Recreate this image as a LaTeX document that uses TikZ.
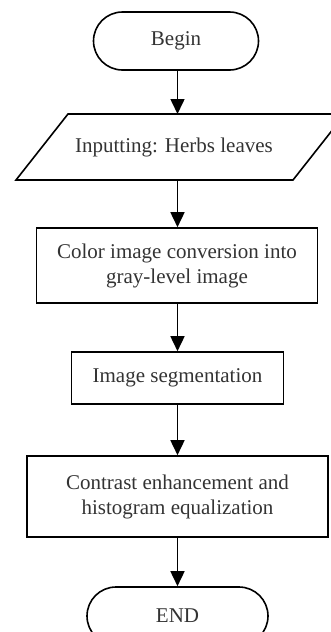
\documentclass[tikz,border=0pt]{standalone}
\usepackage{fontspec}
\setmainfont{Liberation Serif}
\usetikzlibrary{arrows.meta,shapes.misc}
\begin{document}
\begin{tikzpicture}[x=1pt,y=-1pt,
  lw/.style={line width=1.6pt},
  box/.style={draw, lw, inner sep=0pt, align=center, text=black!80,
    font=\fontsize{21}{25}\selectfont},
  term/.style={box, rounded rectangle},
  lbl/.style={inner sep=0pt, align=center, text=black!80, font=\fontsize{21}{25}\selectfont},
  arr/.style={lw, -{Triangle[width=14pt,length=15pt]}}]
\useasboundingbox (0,0) rectangle (331,632);
\clip (0,0) rectangle (331,632);
\node[term, minimum width=165pt, minimum height=58pt] (begin) at (176,41) {Begin};
\coordinate (pTL) at (68,114);
\coordinate (pTR) at (345,114);
\coordinate (pBR) at (293,180);
\coordinate (pBL) at (16,180);
\draw[lw, line join=miter] (pTL) -- (pTR) -- (pBR) -- (pBL) -- cycle;
\node[lbl] (input) at (174,147) {Inputting: Herbs leaves};
\coordinate (inTop) at (177.5,114);
\coordinate (inBot) at (177.5,180);
\node[box, minimum width=281pt, minimum height=75pt] (conv) at (177,265.5) {Color image conversion into\\gray-level image};
\node[box, minimum width=212pt, minimum height=52pt] (seg) at (177.5,378) {Image segmentation};
\node[box, minimum width=301pt, minimum height=81pt] (contrast) at (177.5,496.5) {Contrast enhancement and\\histogram equalization};
\node[term, minimum width=181pt, minimum height=58pt] (end) at (177.5,616) {END};
\draw[arr] (begin.south -| inTop) -- (inTop);
\draw[arr] (inBot) -- (inBot |- conv.north);
\draw[arr] (conv.south -| seg.north) -- (seg.north);
\draw[arr] (seg.south) -- (contrast.north);
\draw[arr] (contrast.south) -- (end.north);
\end{tikzpicture}
\end{document}
